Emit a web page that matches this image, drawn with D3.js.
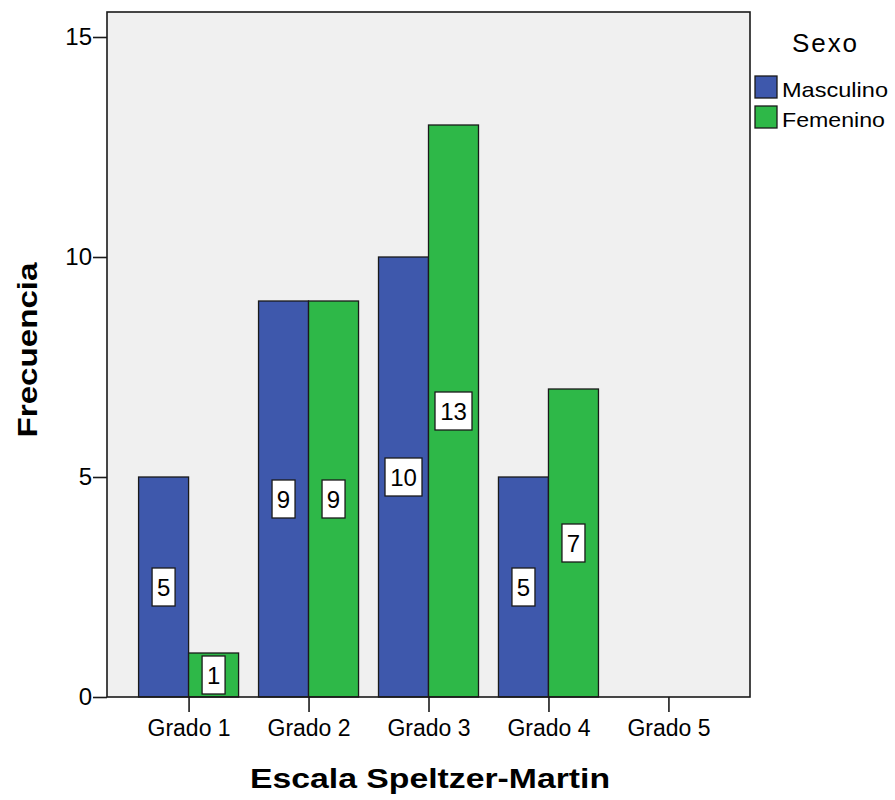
<!DOCTYPE html>
<html>
<head>
<meta charset="utf-8">
<script src="https://cdn.jsdelivr.net/npm/d3@7"></script>
<style>
  body { margin: 0; background: #fff; }
  text { font-family: "Liberation Sans", Arial, sans-serif; fill: #000; }
</style>
</head>
<body>
<svg id="chart" width="895" height="800"></svg>
<script>
// Frecuencia por grado de la escala Speltzer-Martin, según sexo
const categories = ["Grado 1", "Grado 2", "Grado 3", "Grado 4", "Grado 5"];
const seriesNames = ["Masculino", "Femenino"];
const masculino = [5, 9, 10, 5, 0];
const femenino = [1, 9, 13, 7, 0];
const yTicks = [0, 5, 10, 15];
const colors = ["#3e58ac", "#2eb848"];

const svg = d3.select("#chart");
const plot = { left: 107, right: 750, top: 12, bottom: 697 };
const FONT = "Liberation Sans, Arial, sans-serif";

const x = d3.scalePoint().domain(categories)
  .range([plot.left, plot.right]).padding(0.68);
const y = d3.scaleLinear().domain([0, 15]).range([697, 37]);
const barW = 50;

// Plot background
svg.append("rect")
  .attr("x", plot.left).attr("y", plot.top)
  .attr("width", plot.right - plot.left).attr("height", plot.bottom - plot.top)
  .attr("fill", "#f0f0f0");

const series = [masculino, femenino];
const rows = [];
categories.forEach((c, i) => {
  series.forEach((vals, s) => {
    rows.push({ cat: c, s, v: vals[i] });
  });
});

const bars = svg.append("g");
bars.selectAll("rect").data(rows.filter(d => d.v > 0)).join("rect")
  .attr("x", d => x(d.cat) + (d.s === 0 ? -barW : 0))
  .attr("y", d => y(d.v))
  .attr("width", barW)
  .attr("height", d => y(0) - y(d.v))
  .attr("fill", d => colors[d.s])
  .attr("stroke", "#1a1a1a")
  .attr("stroke-width", 1.3);

// Value labels in white boxes at the bar middles
const labels = svg.append("g");
rows.filter(d => d.v > 0).forEach(d => {
  const cx = x(d.cat) + (d.s === 0 ? -barW / 2 : barW / 2);
  const cy = (y(d.v) + y(0)) / 2;
  const txt = String(d.v);
  const w = txt.length > 1 ? 37 : 23;
  const h = 38;
  labels.append("rect")
    .attr("x", cx - w / 2).attr("y", cy - h / 2)
    .attr("width", w).attr("height", h)
    .attr("fill", "#fff").attr("stroke", "#1a1a1a").attr("stroke-width", 1.3);
  labels.append("text")
    .attr("x", cx).attr("y", cy + 9)
    .attr("text-anchor", "middle")
    .attr("font-size", 24)
    .text(txt);
});

// Frame
svg.append("rect")
  .attr("x", plot.left).attr("y", plot.top)
  .attr("width", plot.right - plot.left).attr("height", plot.bottom - plot.top)
  .attr("fill", "none").attr("stroke", "#1a1a1a").attr("stroke-width", 1.6);

// Y axis
const yAxis = svg.append("g").attr("transform", `translate(${plot.left},0)`)
  .call(d3.axisLeft(y).tickValues(yTicks).tickSize(14).tickPadding(1).tickFormat(d3.format("d")));
yAxis.select(".domain").remove();
yAxis.selectAll(".tick line").attr("stroke", "#1a1a1a").attr("stroke-width", 1.6);
yAxis.selectAll(".tick text").attr("font-size", 24).attr("font-family", FONT).attr("fill", "#000");

// X axis
const xAxis = svg.append("g").attr("transform", `translate(0,${plot.bottom})`)
  .call(d3.axisBottom(x).tickSize(15).tickPadding(8));
xAxis.select(".domain").remove();
xAxis.selectAll(".tick line").attr("stroke", "#1a1a1a").attr("stroke-width", 1.6);
xAxis.selectAll(".tick text").attr("font-size", 23).attr("font-family", FONT).attr("fill", "#000");

// Axis titles
svg.append("text")
  .attr("transform", "translate(37,350) rotate(-90)")
  .attr("text-anchor", "middle")
  .attr("font-size", 28).attr("font-weight", "bold")
  .attr("textLength", 175).attr("lengthAdjust", "spacingAndGlyphs")
  .text("Frecuencia");
svg.append("text")
  .attr("x", 430).attr("y", 788)
  .attr("text-anchor", "middle")
  .attr("font-size", 28).attr("font-weight", "bold")
  .attr("textLength", 360).attr("lengthAdjust", "spacingAndGlyphs")
  .text("Escala Speltzer-Martin");

// Legend
const legend = svg.append("g");
legend.append("text")
  .attr("x", 792).attr("y", 52)
  .attr("font-size", 26)
  .attr("textLength", 65).attr("lengthAdjust", "spacing")
  .text("Sexo");
seriesNames.forEach((name, i) => {
  const yy = 76 + i * 30;
  legend.append("rect")
    .attr("x", 755).attr("y", yy)
    .attr("width", 22).attr("height", 22)
    .attr("fill", colors[i]).attr("stroke", "#1a1a1a").attr("stroke-width", 1.3);
  legend.append("text")
    .attr("x", 782).attr("y", yy + 21)
    .attr("font-size", 21)
    .attr("textLength", i === 0 ? 106 : 103).attr("lengthAdjust", "spacingAndGlyphs")
    .text(name);
});
</script>
</body>
</html>
